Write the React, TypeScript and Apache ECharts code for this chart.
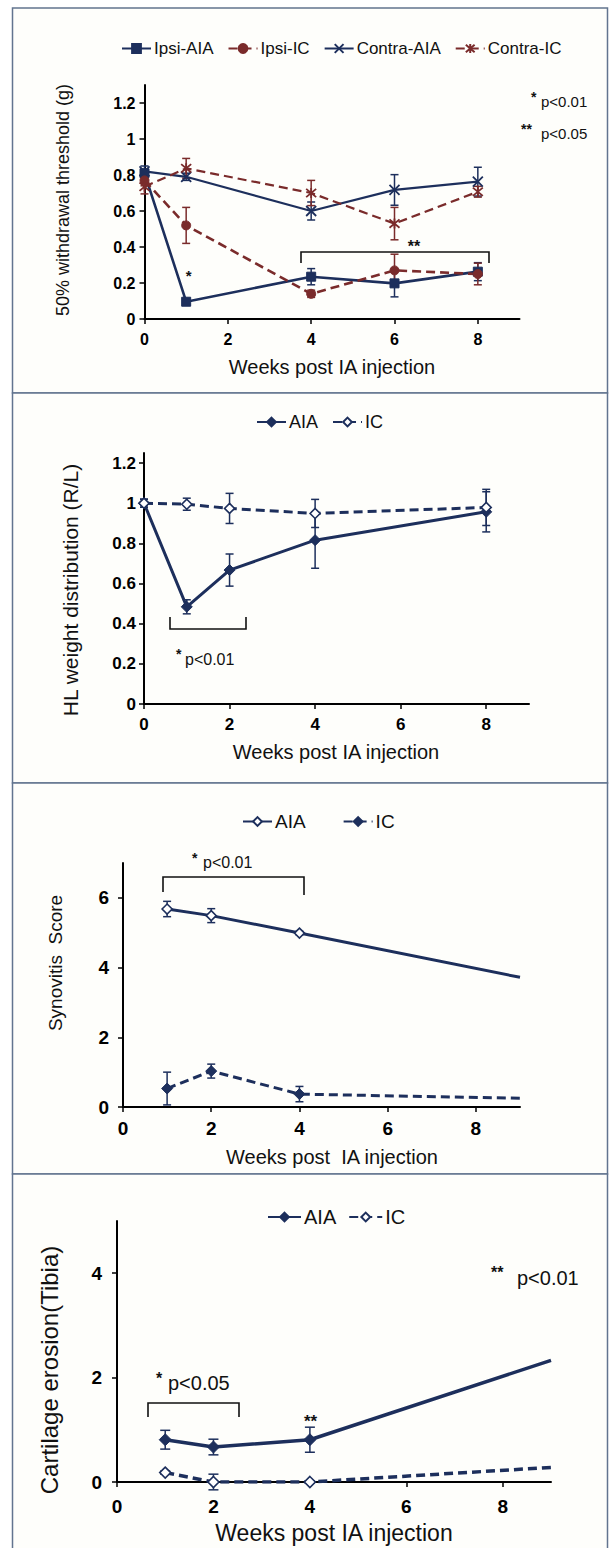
import React, { useEffect, useRef } from "react";
import * as echarts from "echarts";

// ---------------- DATA ----------------
// Panel 1: 50% withdrawal threshold (g)
const weeks1 = [0, 1, 4, 6, 8];
const ipsiAIA = [0.81, 0.096, 0.235, 0.198, 0.263];
const ipsiAIAErr = [0.02, 0.015, 0.045, 0.075, 0.05];
const ipsiIC = [0.77, 0.52, 0.14, 0.27, 0.25];
const ipsiICErr = [0.03, 0.1, 0.02, 0.09, 0.06];
const contraAIA = [0.82, 0.79, 0.6, 0.717, 0.763];
const contraAIAErr = [0.03, 0.02, 0.05, 0.085, 0.08];
const contraIC = [0.735, 0.837, 0.7, 0.53, 0.707];
const contraICErr = [0.04, 0.055, 0.07, 0.09, 0.03];
const yTicks1 = [0, 0.2, 0.4, 0.6, 0.8, 1, 1.2];

// Panel 2: HL weight distribution (R/L)
const weeks2 = [0, 1, 2, 4, 8];
const hlAIA = [1.0, 0.484, 0.667, 0.816, 0.957];
const hlAIAErr = [0.02, 0.035, 0.08, 0.14, 0.1];
const hlIC = [1.0, 0.995, 0.974, 0.949, 0.979];
const hlICErr = [0.02, 0.03, 0.075, 0.07, 0.09];
const yTicks2 = [0, 0.2, 0.4, 0.6, 0.8, 1, 1.2];

// Panel 3: Synovitis Score (last point is where the line leaves the axis, no marker)
const weeks3 = [1, 2, 4, 9];
const synAIA = [5.68, 5.49, 4.99, 3.72];
const synAIAErr = [0.22, 0.2, 0.05, 0];
const synIC = [0.53, 1.03, 0.37, 0.25];
const synICErr = [0.47, 0.2, 0.22, 0];
const yTicks3 = [0, 2, 4, 6];

// Panel 4: Cartilage erosion (Tibia)
const weeks4 = [1, 2, 4, 9];
const ceAIA = [0.81, 0.67, 0.81, 2.33];
const ceAIAErr = [0.18, 0.15, 0.24, 0];
const ceIC = [0.18, 0.0, 0.0, 0.28];
const ceICErr = [0.03, 0.15, 0.02, 0];
const yTicks4 = [0, 2, 4];

const xTicks = [0, 2, 4, 6, 8];

// ---------------- STYLE ----------------
const NAVY = "#1d2f5c";
const RED = "#7a2b2b";
const FONT = '"Liberation Sans", Arial, sans-serif';
const BORDER = "#62748f";

const names: Record<string, string> = {};
const nm = (label: string, panel: number) => {
  const key = `${label}#${panel}`;
  names[key] = label;
  return key;
};

const CROSS = "path://M0,0L10,10M10,0L0,10";
const STAR = "path://M0,0L10,10M10,0L0,10M5,-1L5,11";

function lineSeries(
  name: string,
  idx: number,
  xs: number[],
  ys: number[],
  color: string,
  dashed: boolean,
  symbol: string,
  symbolSize: number,
  width: number,
  open: boolean,
  lastNoMarker = false
) {
  const data = xs.map((x, i) => {
    const item: any = { value: [x, ys[i]] };
    if (lastNoMarker && i === xs.length - 1) item.symbol = "none";
    return item;
  });
  const stroked = symbol.startsWith("path://");
  return {
    type: "line",
    name,
    xAxisIndex: idx,
    yAxisIndex: idx,
    data,
    symbol,
    symbolSize,
    showAllSymbol: true,
    silent: true,
    z: 3,
    lineStyle: { color, width, type: dashed ? [9, 5] : "solid" },
    itemStyle: stroked
      ? { color: "rgba(0,0,0,0)", borderColor: color, borderWidth: 1.8 }
      : open
      ? { color: "#ffffff", borderColor: color, borderWidth: 1.6 }
      : { color, borderColor: color, borderWidth: 1 },
  };
}

function errSeries(idx: number, xs: number[], ys: number[], es: number[], color: string, cap: number) {
  const data = xs
    .map((x, i) => [x, ys[i] - es[i], ys[i] + es[i]])
    .filter((d, i) => es[i] > 0);
  return {
    type: "custom",
    xAxisIndex: idx,
    yAxisIndex: idx,
    silent: true,
    z: 2,
    data,
    encode: { x: 0, y: [1, 2] },
    renderItem: (params: any, api: any) => {
      const x = api.value(0);
      const lo = api.coord([x, api.value(1)]);
      const hi = api.coord([x, api.value(2)]);
      const st = { stroke: color, lineWidth: 1.5 };
      return {
        type: "group",
        children: [
          { type: "line", shape: { x1: lo[0], y1: lo[1], x2: hi[0], y2: hi[1] }, style: st },
          { type: "line", shape: { x1: hi[0] - cap, y1: hi[1], x2: hi[0] + cap, y2: hi[1] }, style: st },
          { type: "line", shape: { x1: lo[0] - cap, y1: lo[1], x2: lo[0] + cap, y2: lo[1] }, style: st },
        ],
      };
    },
  };
}

function xAxis(idx: number, fontSize: number, margin: number) {
  return {
    type: "value",
    gridIndex: idx,
    min: 0,
    max: 9,
    interval: 1,
    axisLine: { show: true, onZero: false, lineStyle: { color: "#000", width: 2 } },
    axisTick: { show: true, length: 5, customValues: xTicks, lineStyle: { color: "#000", width: 1.5 } },
    axisLabel: {
      customValues: xTicks,
      margin,
      color: "#000",
      fontWeight: "bold",
      fontSize,
      fontFamily: FONT,
    },
    splitLine: { show: false },
  };
}

function yAxis(idx: number, max: number, ticks: number[], fontSize: number, margin: number) {
  return {
    type: "value",
    gridIndex: idx,
    min: 0,
    max,
    axisLine: { show: true, lineStyle: { color: "#000", width: 2 } },
    axisTick: { show: true, length: 5, customValues: ticks, lineStyle: { color: "#000", width: 1.5 } },
    axisLabel: {
      customValues: ticks,
      margin,
      color: "#000",
      fontWeight: "bold",
      fontSize,
      fontFamily: FONT,
      formatter: (v: number) => String(Math.round(v * 100) / 100),
    },
    splitLine: { show: false },
  };
}

function legend(left: number, top: number, data: string[], fontSize: number, gap: number, iw: number) {
  return {
    left,
    top,
    padding: 0,
    itemGap: gap,
    itemWidth: iw,
    itemHeight: 11,
    selectedMode: false,
    data,
    formatter: (n: string) => names[n] ?? n,
    textStyle: { fontSize, fontFamily: FONT, color: "#111", padding: [0, 0, 0, -2] },
  };
}

function txt(x: number, y: number, text: string, size: number, opts: any = {}) {
  return {
    type: "text",
    x,
    y,
    rotation: opts.rotation ?? 0,
    silent: true,
    z: 10,
    style: {
      text,
      fill: opts.color ?? "#111",
      font: `${opts.bold ? "bold " : ""}${size}px ${FONT}`,
      textAlign: opts.align ?? "left",
      textVerticalAlign: "middle",
      verticalAlign: "middle",
    },
  };
}

function bracket(points: number[][]) {
  return {
    type: "polyline",
    silent: true,
    z: 10,
    shape: { points },
    style: { stroke: "#111", lineWidth: 1.6, fill: "none" },
  };
}

function panelRect(y: number, h: number) {
  return {
    type: "rect",
    silent: true,
    z: -1,
    shape: { x: 12.5, y, width: 595, height: h },
    style: { fill: "#fefefb", stroke: BORDER, lineWidth: 1.5 },
  };
}

export default function App() {
  const ref = useRef<HTMLDivElement>(null);

  useEffect(() => {
    if (!ref.current) return;
    const chart = echarts.init(ref.current, null, { renderer: "svg" });

    const n1 = [nm("Ipsi-AIA", 1), nm("Ipsi-IC", 1), nm("Contra-AIA", 1), nm("Contra-IC", 1)];
    const n2 = [nm("AIA", 2), nm("IC", 2)];
    const n3 = [nm("AIA", 3), nm("IC", 3)];
    const n4 = [nm("AIA", 4), nm("IC", 4)];

    const option: any = {
      animation: false,
      backgroundColor: "#ffffff",
      grid: [
        { left: 144.5, top: 85, width: 375, height: 234, containLabel: false, outerBoundsMode: "none" },
        { left: 144, top: 453, width: 385, height: 251, containLabel: false, outerBoundsMode: "none" },
        { left: 123, top: 863, width: 397, height: 244, containLabel: false, outerBoundsMode: "none" },
        { left: 117, top: 1221, width: 434, height: 261, containLabel: false, outerBoundsMode: "none" },
      ],
      xAxis: [xAxis(0, 16, 12), xAxis(1, 17, 12), xAxis(2, 19, 12), xAxis(3, 19, 15)],
      yAxis: [
        yAxis(0, 1.3, yTicks1, 16, 9),
        yAxis(1, 1.25, yTicks2, 17, 8),
        yAxis(2, 7, yTicks3, 19, 14),
        yAxis(3, 5, yTicks4, 19, 15),
      ],
      legend: [
        legend(121, 40, n1, 17, 14, 29),
        legend(256, 413, n2, 18, 14, 29),
        legend(242, 812, n3, 19, 37, 29),
        legend(267, 1207, n4, 20, 12, 33),
      ],
      series: [
        // panel 1
        errSeries(0, weeks1, ipsiAIA, ipsiAIAErr, NAVY, 4),
        errSeries(0, weeks1, ipsiIC, ipsiICErr, RED, 4),
        errSeries(0, weeks1, contraAIA, contraAIAErr, NAVY, 4),
        errSeries(0, weeks1, contraIC, contraICErr, RED, 4),
        lineSeries(n1[0], 0, weeks1, ipsiAIA, NAVY, false, "rect", 9, 2.6, false),
        lineSeries(n1[1], 0, weeks1, ipsiIC, RED, true, "circle", 9, 2.6, false),
        lineSeries(n1[2], 0, weeks1, contraAIA, NAVY, false, CROSS, 10, 2.2, false),
        lineSeries(n1[3], 0, weeks1, contraIC, RED, true, STAR, 10, 2.2, false),
        // panel 2
        errSeries(1, weeks2, hlAIA, hlAIAErr, NAVY, 4),
        errSeries(1, weeks2, hlIC, hlICErr, NAVY, 4),
        lineSeries(n2[0], 1, weeks2, hlAIA, NAVY, false, "diamond", 11, 3, false),
        lineSeries(n2[1], 1, weeks2, hlIC, NAVY, true, "diamond", 10, 3, true),
        // panel 3
        errSeries(2, weeks3, synAIA, synAIAErr, NAVY, 4),
        errSeries(2, weeks3, synIC, synICErr, NAVY, 4),
        lineSeries(n3[0], 2, weeks3, synAIA, NAVY, false, "diamond", 10, 3, true, true),
        lineSeries(n3[1], 2, weeks3, synIC, NAVY, true, "diamond", 11, 3, false, true),
        // panel 4
        errSeries(3, weeks4, ceAIA, ceAIAErr, NAVY, 5),
        errSeries(3, weeks4, ceIC, ceICErr, NAVY, 5),
        lineSeries(n4[0], 3, weeks4, ceAIA, NAVY, false, "diamond", 12, 3.5, false, true),
        lineSeries(n4[1], 3, weeks4, ceIC, NAVY, true, "diamond", 11, 3.5, true, true),
      ],
      graphic: [
        panelRect(8, 385),
        panelRect(393, 390),
        panelRect(783, 391),
        panelRect(1174, 380),
        // panel 1 texts
        txt(62.5, 200, "50% withdrawal threshold (g)", 18, { rotation: Math.PI / 2, align: "center" }),
        txt(332, 367, "Weeks post IA injection", 20, { align: "center" }),
        txt(531, 97, "*", 14, { bold: true }),
        txt(541, 101, "p<0.01", 15),
        txt(521, 129, "**", 14, { bold: true }),
        txt(541, 133, "p<0.05", 15),
        bracket([[301, 263], [301, 252], [489, 252], [489, 263]]),
        txt(414, 246, "**", 16, { bold: true, align: "center" }),
        txt(188.6, 275, "*", 15, { bold: true, align: "center" }),
        // panel 2 texts
        txt(70, 590, "HL weight distribution (R/L)", 21, { rotation: Math.PI / 2, align: "center" }),
        txt(336, 752, "Weeks post IA injection", 20, { align: "center" }),
        bracket([[170, 617], [170, 629], [246, 629], [246, 617]]),
        txt(176, 654, "*", 14, { bold: true }),
        txt(185, 659, "p<0.01", 16),
        // panel 3 texts
        txt(55, 963, "Synovitis  Score", 19, { rotation: Math.PI / 2, align: "center" }),
        txt(332, 1157, "Weeks post  IA injection", 20, { align: "center" }),
        bracket([[163, 892], [163, 877], [304, 877], [304, 895]]),
        txt(192, 858, "*", 14, { bold: true }),
        txt(203, 862, "p<0.01", 16),
        // panel 4 texts
        txt(49, 1370, "Cartilage erosion(Tibia)", 24, { rotation: Math.PI / 2, align: "center" }),
        txt(334, 1533, "Weeks post IA injection", 23, { align: "center" }),
        bracket([[148, 1417], [148, 1403], [239, 1403], [239, 1417]]),
        txt(156, 1378, "*", 16, { bold: true }),
        txt(168, 1383, "p<0.05", 20),
        txt(310.5, 1421, "**", 17, { bold: true, align: "center" }),
        txt(491, 1272, "**", 16, { bold: true }),
        txt(517, 1278, "p<0.01", 20),
      ],
    };

    chart.setOption(option);
    return () => chart.dispose();
  }, []);

  return (
    <div
      ref={ref}
      style={{ position: "absolute", left: 0, top: 0, width: 612, height: 1548 }}
    />
  );
}
